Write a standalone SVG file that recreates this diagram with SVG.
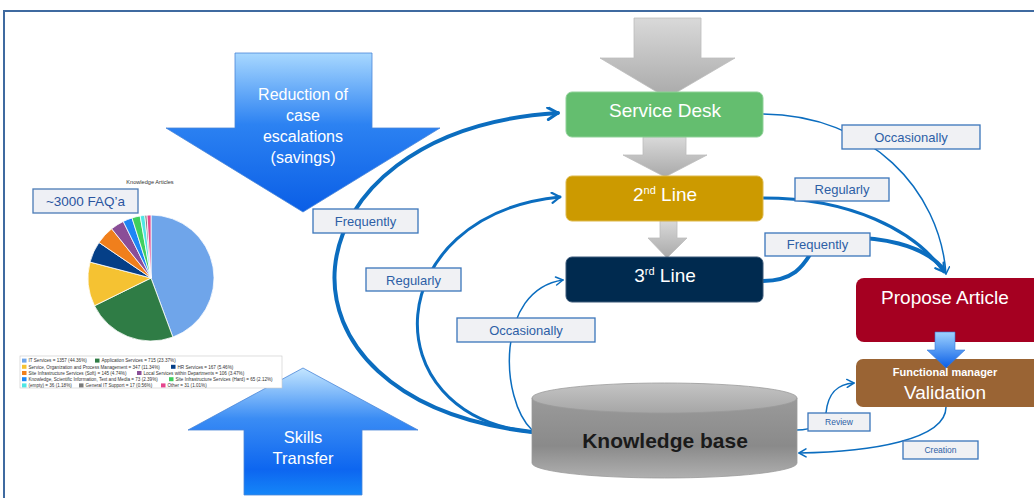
<svg xmlns="http://www.w3.org/2000/svg" width="1034" height="498" viewBox="0 0 1034 498">
<defs>
<style>
.lbl rect{fill:#f0f1f4;stroke:#3a75bb;stroke-width:1.3}
.lbl text{font-family:"Liberation Sans",Arial,sans-serif;fill:#2d5fa6;text-anchor:middle}
.node text{font-family:"Liberation Sans",Arial,sans-serif;fill:#fff;text-anchor:middle}
.con{fill:none;stroke:#0b6dbf;stroke-linecap:round}
.lg text{font-family:"Liberation Sans",Arial,sans-serif;font-size:4.6px;fill:#333}
.pie path{stroke:#fff;stroke-width:0.8}
</style>
<linearGradient id="gGray" x1="0" y1="0" x2="0" y2="1">
<stop offset="0" stop-color="#d9d9d9"/><stop offset="1" stop-color="#a9a9a9"/>
</linearGradient>
<linearGradient id="gDown" x1="0" y1="0" x2="0" y2="1">
<stop offset="0" stop-color="#a8d8ff"/><stop offset="0.45" stop-color="#2c82f2"/><stop offset="1" stop-color="#0a5ee6"/>
</linearGradient>
<linearGradient id="gUp" x1="0" y1="0" x2="0" y2="1">
<stop offset="0" stop-color="#c4e6ff"/><stop offset="0.4" stop-color="#3a8cf4"/><stop offset="0.8" stop-color="#0d66f0"/><stop offset="1" stop-color="#1586f8"/>
</linearGradient>
<linearGradient id="gSmall" x1="0" y1="0" x2="0" y2="1">
<stop offset="0" stop-color="#9fd3ff"/><stop offset="1" stop-color="#0a5ee6"/>
</linearGradient>
<linearGradient id="gCyl" x1="0" y1="0" x2="0" y2="1">
<stop offset="0" stop-color="#9a9a9a"/><stop offset="0.6" stop-color="#8a8a8a"/><stop offset="1" stop-color="#b0b0b0"/>
</linearGradient>
<linearGradient id="gCylTop" x1="0" y1="0" x2="0" y2="1">
<stop offset="0" stop-color="#c4c4c4"/><stop offset="1" stop-color="#a6a6a6"/>
</linearGradient>
<marker id="arrL" viewBox="0 0 14 14" refX="12" refY="7" markerWidth="14" markerHeight="14" markerUnits="userSpaceOnUse" orient="auto">
<path d="M2,1 L12,7 L2,13" fill="none" stroke="#0b6dbf" stroke-width="3" stroke-linecap="round" stroke-linejoin="round"/>
</marker>
<marker id="arrM" viewBox="0 0 12 12" refX="10" refY="6" markerWidth="12" markerHeight="12" markerUnits="userSpaceOnUse" orient="auto">
<path d="M2,1 L10,6 L2,11" fill="none" stroke="#0b6dbf" stroke-width="2.2" stroke-linecap="round" stroke-linejoin="round"/>
</marker>
<marker id="arrS" viewBox="0 0 10 10" refX="9" refY="5" markerWidth="10" markerHeight="10" markerUnits="userSpaceOnUse" orient="auto">
<path d="M2,1 L9,5 L2,9" fill="none" stroke="#0b6dbf" stroke-width="1.5" stroke-linecap="round" stroke-linejoin="round"/>
</marker>
</defs>
<rect x="0" y="0" width="1034" height="498" fill="#fff"/>
<path d="M4,498 V11 H1034" fill="none" stroke="#3f6aa0" stroke-width="2"/>

<!-- big blue arrows -->
<g id="reduction-arrow">
<path d="M235,53 H372 V128 H440 L303,212 L166,128 H235 Z" fill="url(#gDown)" stroke="#4a86d8" stroke-width="0.8"/>
<g font-family="'Liberation Sans',Arial,sans-serif" font-size="16" fill="#fff" text-anchor="middle">
<text x="303" y="100">Reduction  of</text>
<text x="303" y="121">case</text>
<text x="303" y="142">escalations</text>
<text x="303" y="163">(savings)</text>
</g>
</g>
<g id="skills-arrow">
<path d="M303,368 L418,430 H362 V495 H244 V430 H188 Z" fill="url(#gUp)" stroke="#4a86d8" stroke-width="0.8"/>
<g font-family="'Liberation Sans',Arial,sans-serif" font-size="16.5" fill="#fff" text-anchor="middle">
<text x="303" y="443">Skills</text>
<text x="303" y="464">Transfer</text>
</g>
</g>

<!-- pie chart -->
<g id="pie-chart">
<text x="150" y="184" font-family="'Liberation Sans',Arial,sans-serif" font-size="5.6" fill="#333" text-anchor="middle">Knowledge Articles</text>
<g class="pie">
<path d="M151,278 L151,215 A63,63 0 0 1 172.86,337.09 Z" fill="#6fa5ea"/>
<path d="M151,278 L172.86,337.09 A63,63 0 0 1 94.46,305.78 Z" fill="#2f7c45"/>
<path d="M151,278 L94.46,305.78 A63,63 0 0 1 90.05,262.07 Z" fill="#f5c232"/>
<path d="M151,278 L90.05,262.07 A63,63 0 0 1 98.97,242.48 Z" fill="#053f87"/>
<path d="M151,278 L98.97,242.48 A63,63 0 0 1 111.67,228.78 Z" fill="#f07f1c"/>
<path d="M151,278 L111.67,228.78 A63,63 0 0 1 123.24,221.44 Z" fill="#8a4e97"/>
<path d="M151,278 L123.24,221.44 A63,63 0 0 1 132.01,217.93 Z" fill="#1d86f5"/>
<path d="M151,278 L132.01,217.93 A63,63 0 0 1 140.16,215.94 Z" fill="#3fcf5e"/>
<path d="M151,278 L140.16,215.94 A63,63 0 0 1 144.79,215.31 Z" fill="#4ee6e4"/>
<path d="M151,278 L144.79,215.31 A63,63 0 0 1 147.0,215.13 Z" fill="#7a7a7a"/>
<path d="M151,278 L147.0,215.13 A63,63 0 0 1 151,215 Z" fill="#e5458d"/>
</g>
<g class="lg">
<rect x="20" y="356" width="262" height="32" fill="#fff" stroke="#c8c8c8" stroke-width="0.6"/>
<rect x="22" y="358.6" width="4.5" height="4" fill="#6fa5ea"/><text x="28.5" y="362.3">IT Services = 1357 (44.36%)</text>
<rect x="95" y="358.6" width="4.5" height="4" fill="#2f7c45"/><text x="101.5" y="362.3">Application Services = 715 (23.37%)</text>
<rect x="22" y="364.8" width="4.5" height="4" fill="#f5c232"/><text x="28.5" y="368.5">Service, Organization and Process Management = 347 (11.34%)</text>
<rect x="171" y="364.8" width="4.5" height="4" fill="#053f87"/><text x="177.5" y="368.5">HR Services = 167 (5.46%)</text>
<rect x="22" y="371" width="4.5" height="4" fill="#f07f1c"/><text x="28.5" y="374.7">Site Infrastructure Services (Soft) = 145 (4.74%)</text>
<rect x="137" y="371" width="4.5" height="4" fill="#8a4e97"/><text x="143.5" y="374.7">Local Services within Departments = 106 (3.47%)</text>
<rect x="22" y="377.2" width="4.5" height="4" fill="#1d86f5"/><text x="28.5" y="380.9">Knowledge, Scientific Information, Text and Media = 73 (2.39%)</text>
<rect x="169" y="377.2" width="4.5" height="4" fill="#3fcf5e"/><text x="175.5" y="380.9">Site Infrastructure Services (Hard) = 65 (2.12%)</text>
<rect x="22" y="383.4" width="4.5" height="4" fill="#4ee6e4"/><text x="28.5" y="387.1">(empty) = 36 (1.18%)</text>
<rect x="79" y="383.4" width="4.5" height="4" fill="#7a7a7a"/><text x="85.5" y="387.1">General IT Support = 17 (0.56%)</text>
<rect x="161" y="383.4" width="4.5" height="4" fill="#e5458d"/><text x="167.5" y="387.1">Other = 31 (1.01%)</text>
</g>
</g>
<g id="faq-label" class="lbl">
<rect x="33" y="189" width="105" height="24" fill="#eef0f5" style="fill:#eef0f5;stroke:#4a7ab5"/>
<text x="85.5" y="206" font-size="13.5" style="fill:#2a55a0">~3000 FAQ’a</text>
</g>

<!-- gray flow arrows -->
<g id="gray-arrows" fill="url(#gGray)" stroke="#bdbdbd" stroke-width="0.8">
<path d="M634,18 H701 V58 H735 L667,98 L600,58 H634 Z"/>
<path d="M643,137 H686 V155 H707 L665,177 L623,155 H643 Z"/>
<path d="M660,221 H677 V238 H687 L667,258 L648,238 H660 Z"/>
</g>

<!-- connectors -->
<g id="connectors">
<path class="con" d="M532,432 C250,400 280,130 558,113" stroke-width="4" marker-end="url(#arrL)"/>
<path class="con" d="M532,432 C370,415 380,215 560,197" stroke-width="3" marker-end="url(#arrM)"/>
<path class="con" d="M532,430 C500,400 495,290 563,280" stroke-width="1.5" marker-end="url(#arrS)"/>
<path class="con" d="M763,114 C870,115 940,190 946,274" stroke-width="1.5" marker-end="url(#arrS)"/>
<path class="con" d="M763,198 C850,198 915,230 944,272" stroke-width="3" marker-end="url(#arrM)"/>
<path class="con" d="M763,281 C815,280 805,240 830,238 C880,235 925,245 944,270" stroke-width="4"/>
<path class="con" d="M797,430 C812,430 824,424 826,413 C828,392 838,384 854,383" stroke-width="1.5" marker-end="url(#arrS)"/>
<path class="con" d="M946,407 C946,440 870,452 799,453" stroke-width="1.5" marker-end="url(#arrS)"/>
</g>

<!-- nodes -->
<g id="service-desk" class="node">
<rect x="566" y="92" width="197" height="45" rx="6" fill="#64be6f" stroke="#8fd198" stroke-width="1"/>
<text x="665" y="117" font-size="19">Service Desk</text>
</g>
<g id="second-line" class="node">
<rect x="566" y="176" width="197" height="45" rx="6" fill="#cc9a00" stroke="#ddb84a" stroke-width="1"/>
<text x="665" y="201" font-size="19">2<tspan font-size="11" dy="-7">nd</tspan><tspan dy="7"> Line</tspan></text>
</g>
<g id="third-line" class="node">
<rect x="566" y="257" width="197" height="45" rx="6" fill="#002a4f" stroke="#3a5878" stroke-width="1"/>
<text x="665" y="282" font-size="19">3<tspan font-size="11" dy="-7">rd</tspan><tspan dy="7"> Line</tspan></text>
</g>
<g id="propose-article" class="node">
<rect x="856" y="278" width="200" height="64" rx="8" fill="#a50021"/>
<text x="945" y="304" font-size="19">Propose Article</text>
</g>
<g id="validation" class="node">
<rect x="856" y="359" width="200" height="48" rx="7" fill="#9a6434"/>
<text x="945" y="376" font-size="11" font-weight="bold">Functional  manager</text>
<text x="945" y="399" font-size="19">Validation</text>
</g>
<g id="validate-arrow">
<path d="M935,332 H955 V350 H965 L946,368 L927,350 H935 Z" fill="url(#gSmall)" stroke="#3a7ad8" stroke-width="0.6"/>
</g>
<g id="knowledge-base">
<path d="M532,398 V463 A132.5,15 0 0 0 797,463 V398 Z" fill="url(#gCyl)" stroke="#9a9a9a" stroke-width="0.8"/>
<ellipse cx="664.5" cy="398" rx="132.5" ry="15" fill="url(#gCylTop)" stroke="#9a9a9a" stroke-width="0.8"/>
<text x="665" y="448" font-family="'Liberation Sans',Arial,sans-serif" font-size="21" font-weight="bold" fill="#1a1a1a" text-anchor="middle">Knowledge base</text>
</g>

<!-- labels -->
<g id="lbl-frequently-1" class="lbl"><rect x="313" y="209" width="105" height="24"/><text x="365.5" y="225.5" font-size="13">Frequently</text></g>
<g id="lbl-regularly-1" class="lbl"><rect x="366" y="268" width="95" height="23"/><text x="413.5" y="284.5" font-size="13">Regularly</text></g>
<g id="lbl-occasionally-1" class="lbl"><rect x="457" y="318" width="138" height="24"/><text x="526" y="334.5" font-size="13">Occasionally</text></g>
<g id="lbl-occasionally-2" class="lbl"><rect x="842" y="125" width="138" height="24"/><text x="911" y="141.5" font-size="13">Occasionally</text></g>
<g id="lbl-regularly-2" class="lbl"><rect x="795" y="178" width="94" height="23"/><text x="842" y="194" font-size="13">Regularly</text></g>
<g id="lbl-frequently-2" class="lbl"><rect x="765" y="233" width="105" height="23"/><text x="817.5" y="249" font-size="13">Frequently</text></g>
<g id="lbl-review" class="lbl"><rect x="808" y="413" width="62" height="18"/><text x="839" y="425" font-size="8.5">Review</text></g>
<g id="lbl-creation" class="lbl"><rect x="903" y="441" width="75" height="18"/><text x="940.5" y="453" font-size="8.5">Creation</text></g>
</svg>
